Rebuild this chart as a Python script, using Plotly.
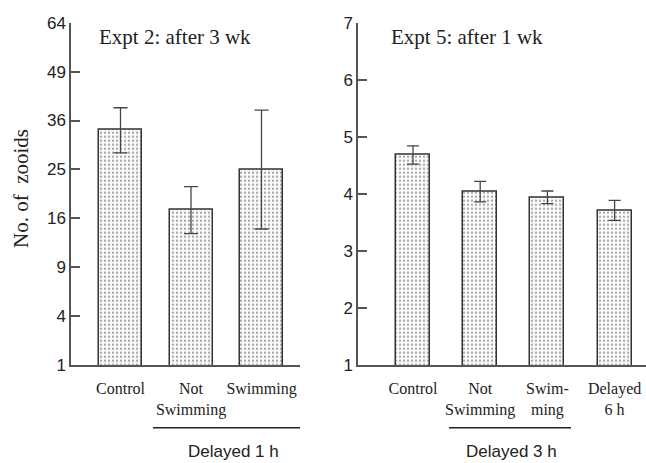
import numpy as np
import plotly.graph_objects as go

# ---- data ----
left_categories = ["Control", "Not<br>Swimming", "Swimming"]
left_means = [33.7, 17.4, 24.9]
left_upper = [39.2, 21.6, 38.6]
left_lower = [28.5, 13.6, 14.3]
left_ticks = [1, 4, 9, 16, 25, 36, 49, 64]

right_categories = ["Control", "Not<br>Swimming", "Swim-<br>ming", "Delayed<br>6 h"]
right_means = [4.68, 4.04, 3.94, 3.71]
right_err = [0.16, 0.18, 0.11, 0.175]
right_ticks = [1, 2, 3, 4, 5, 6, 7]

W, H = 646, 463
def px_x(v): return v / W
def px_y(v): return 1 - v / H

AX = "#555555"
pattern = dict(shape=".", size=4, solidity=0.3, fgcolor="#555555", bgcolor="white")
serif = "Liberation Serif, Times New Roman, serif"
sans = "Liberation Sans, Arial, sans-serif"

fig = go.Figure()

# left panel: square-root scale
lm = np.sqrt(left_means)
fig.add_trace(go.Bar(
    x=list(range(len(left_categories))), y=lm,
    width=0.61,
    marker=dict(color="white", line=dict(color="#333333", width=1.5), pattern=pattern),
    error_y=dict(type="data", symmetric=False,
                 array=np.sqrt(left_upper) - lm,
                 arrayminus=lm - np.sqrt(left_lower),
                 color="#444444", thickness=1.3, width=7),
    xaxis="x", yaxis="y", showlegend=False))

# right panel: linear scale
fig.add_trace(go.Bar(
    x=list(range(len(right_categories))), y=right_means,
    width=0.506,
    marker=dict(color="white", line=dict(color="#333333", width=1.5), pattern=pattern),
    error_y=dict(type="data", array=right_err, color="#444444", thickness=1.3, width=6),
    xaxis="x2", yaxis="y2", showlegend=False))

ydom = [98 / H, 1 - 22.7 / H]
common_y = dict(showline=True, linecolor=AX, linewidth=1.5, ticks="inside",
                ticklen=9, tickcolor=AX, tickwidth=1.5, showgrid=False, zeroline=False,
                automargin=False, tickangle=0,
                tickfont=dict(family=sans, size=17, color="#222222"), domain=ydom)
common_x = dict(showline=True, linecolor=AX, linewidth=1.5, ticks="", showgrid=False,
                zeroline=False, automargin=False, tickangle=0, ticklabelstandoff=8,
                tickfont=dict(family=serif, size=16, color="#222222"))

fig.update_layout(
    width=W, height=H, margin=dict(l=0, r=0, t=0, b=0, autoexpand=False),
    paper_bgcolor="white", plot_bgcolor="white", bargap=0,
    xaxis=dict(common_x, domain=[71 / W, 300 / W], range=[-0.702, 2.546],
               tickmode="array", tickvals=list(range(len(left_categories))),
               ticktext=left_categories, anchor="y"),
    yaxis=dict(common_y, range=[1, 8], tickmode="array",
               tickvals=list(np.sqrt(left_ticks)), ticktext=[str(t) for t in left_ticks],
               anchor="x"),
    xaxis2=dict(common_x, domain=[358 / W, 1.0], range=[-0.818, 3.467],
                tickmode="array", tickvals=list(range(len(right_categories))),
                ticktext=right_categories, anchor="y2"),
    yaxis2=dict(common_y, range=[1, 7], tickmode="array",
                tickvals=right_ticks, ticktext=[str(t) for t in right_ticks], anchor="x2"),
)

ann = [
    dict(text="Expt 2: after 3 wk", x=px_x(97), y=px_y(37), xanchor="left",
         font=dict(family=serif, size=21, color="#222222")),
    dict(text="Expt 5: after 1 wk", x=px_x(389), y=px_y(37), xanchor="left",
         font=dict(family=serif, size=21, color="#222222")),
    dict(text="No. of  zooids", x=px_x(21), y=px_y(189), textangle=-90, xanchor="center",
         font=dict(family=serif, size=21, color="#222222")),
    dict(text="Delayed 1 h", x=px_x(233), y=px_y(451), xanchor="center",
         font=dict(family=sans, size=17, color="#222222")),
    dict(text="Delayed 3 h", x=px_x(511), y=px_y(451), xanchor="center",
         font=dict(family=sans, size=17, color="#222222")),
]
for a in ann:
    a.update(xref="paper", yref="paper", showarrow=False, yanchor="middle")
fig.update_layout(annotations=ann)

fig.add_shape(type="line", xref="paper", yref="paper", x0=px_x(153), x1=px_x(300),
              y0=px_y(427.7), y1=px_y(427.7), line=dict(color="#222222", width=1.5))
fig.add_shape(type="line", xref="paper", yref="paper", x0=px_x(449), x1=px_x(571),
              y0=px_y(427.7), y1=px_y(427.7), line=dict(color="#222222", width=1.5))

fig.write_html("out.html")
